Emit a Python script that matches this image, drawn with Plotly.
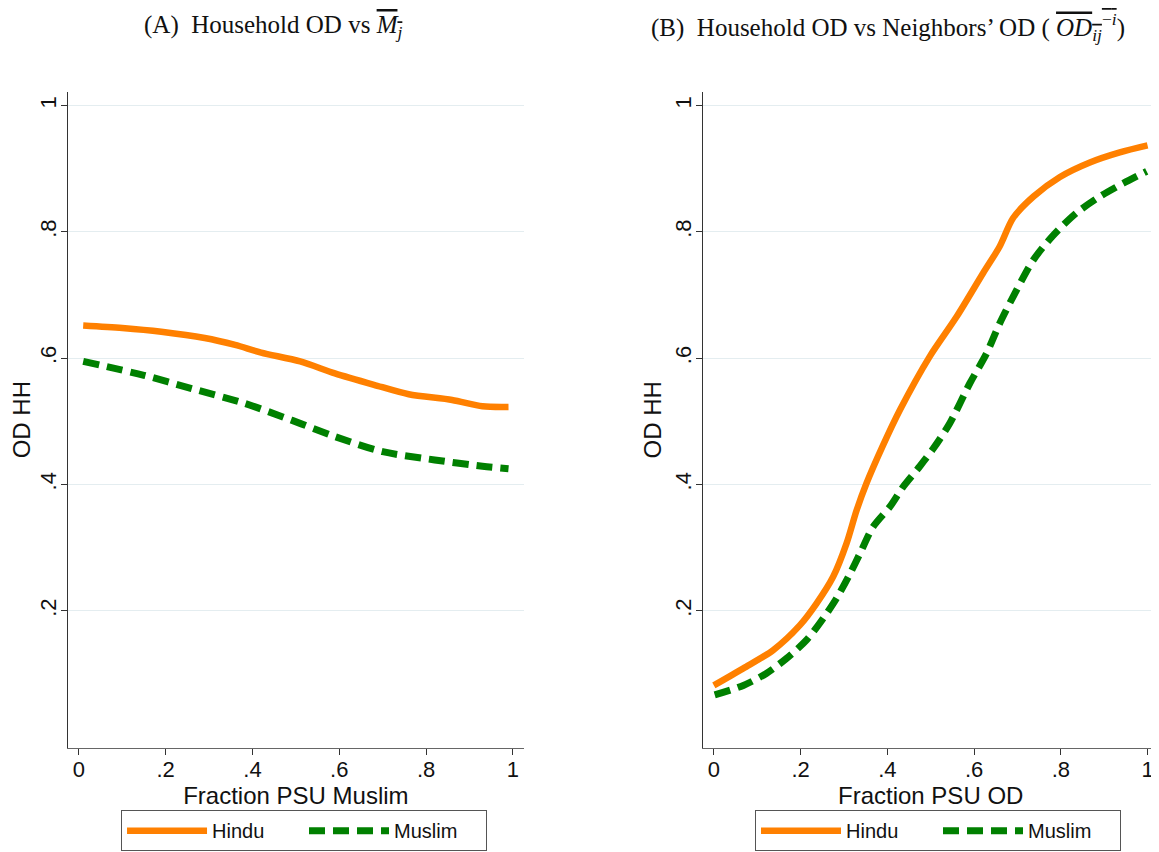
import plotly.graph_objects as go

# ---------------- data ----------------
a_hindu_x = [0.01, 0.10, 0.19, 0.29, 0.36, 0.42, 0.51, 0.59, 0.68, 0.76, 0.86, 0.93, 0.99]
a_hindu_y = [0.652, 0.648, 0.642, 0.632, 0.621, 0.609, 0.595, 0.576, 0.558, 0.543, 0.534, 0.524, 0.523]

a_muslim_x = [0.01, 0.15, 0.26, 0.38, 0.49, 0.59, 0.70, 0.82, 0.93, 0.99]
a_muslim_y = [0.595, 0.573, 0.552, 0.529, 0.502, 0.476, 0.452, 0.439, 0.429, 0.425]

b_hindu_x = [0.0, 0.068, 0.137, 0.198, 0.237, 0.275, 0.306, 0.329, 0.352, 0.39, 0.429,
             0.498, 0.560, 0.621, 0.659, 0.690, 0.737, 0.798, 0.867, 0.936, 1.0]
b_hindu_y = [0.082, 0.109, 0.138, 0.177, 0.212, 0.254, 0.307, 0.359, 0.402, 0.462, 0.518,
             0.603, 0.666, 0.735, 0.777, 0.822, 0.856, 0.887, 0.910, 0.926, 0.937]

b_muslim_x = [0.002, 0.068, 0.121, 0.168, 0.214, 0.252, 0.283, 0.314, 0.337, 0.367, 0.406,
              0.437, 0.475, 0.506, 0.544, 0.590, 0.629, 0.659, 0.698, 0.737, 0.783, 0.836,
              0.890, 0.944, 0.998]
b_muslim_y = [0.067, 0.082, 0.101, 0.125, 0.154, 0.188, 0.220, 0.259, 0.291, 0.333, 0.365,
              0.397, 0.429, 0.457, 0.497, 0.560, 0.608, 0.655, 0.708, 0.756, 0.795, 0.830,
              0.856, 0.877, 0.896]

x_tick_vals = [0, 0.2, 0.4, 0.6, 0.8, 1]
x_tick_text = ["0", ".2", ".4", ".6", ".8", "1"]
y_tick_vals = [0.2, 0.4, 0.6, 0.8, 1]
y_tick_text = [".2", ".4", ".6", ".8", "1"]

series_names = ["Hindu", "Muslim"]
x_titles = ["Fraction PSU Muslim", "Fraction PSU OD"]
y_title = "OD HH"

# ---------------- styling ----------------
ORANGE = "#FF8000"
GREEN = "#008000"
SANS = "Liberation Sans, Arial, sans-serif"
SERIF = "Liberation Serif, Times New Roman, serif"

fig = go.Figure()

panels = [
    (a_hindu_x, a_hindu_y, a_muslim_x, a_muslim_y, "x", "y", "legend"),
    (b_hindu_x, b_hindu_y, b_muslim_x, b_muslim_y, "x2", "y2", "legend2"),
]
for hx, hy, mx, my, xa, ya, lg in panels:
    fig.add_trace(go.Scatter(
        x=hx, y=hy, mode="lines", name=series_names[0], xaxis=xa, yaxis=ya, legend=lg,
        line=dict(color=ORANGE, width=6.5, shape="spline", smoothing=0.8),
    ))
    fig.add_trace(go.Scatter(
        x=mx, y=my, mode="lines", name=series_names[1], xaxis=xa, yaxis=ya, legend=lg,
        line=dict(color=GREEN, width=7, dash="16px,8px", shape="spline", smoothing=0.8),
    ))

xaxis_common = dict(
    range=[-0.025, 1.025], tickvals=x_tick_vals, ticktext=x_tick_text,
    showgrid=False, zeroline=False, showline=True, linecolor="#666", linewidth=1.2,
    ticks="outside", ticklen=6, tickcolor="#333", tickwidth=1.2,
    tickfont=dict(family=SANS, size=22, color="#111"), ticklabelstandoff=-4,
    automargin=False, fixedrange=True,
)
x_title_font = dict(family=SANS, size=24, color="#111")
yaxis_common = dict(
    range=[-0.0166, 1.022], tickvals=y_tick_vals, ticktext=y_tick_text, tickangle=-90,
    showgrid=True, gridcolor="#E4EDF0", gridwidth=1,
    zeroline=False, showline=True, linecolor="#333", linewidth=1.2,
    ticks="outside", ticklen=6, tickcolor="#333", tickwidth=1.2,
    tickfont=dict(family=SANS, size=22, color="#111"), ticklabelstandoff=-4,
    title=dict(text=y_title, font=dict(family=SANS, size=24, color="#111"), standoff=2),
    automargin=False, fixedrange=True,
)

legend_common = dict(
    orientation="h", xanchor="left", y=0.001, yanchor="bottom",
    bordercolor="#555", borderwidth=1, bgcolor="white",
    font=dict(family=SANS, size=20, color="#111"),
    entrywidth=87, entrywidthmode="pixels", itemwidth=80,
)

fig.update_layout(
    template="none",
    width=1151, height=844,
    margin=dict(l=0, r=0, t=0, b=0, autoexpand=False),
    paper_bgcolor="white", plot_bgcolor="white",
    xaxis=dict(xaxis_common, domain=[0.05213, 0.44805], anchor="y",
               title=dict(text=x_titles[0], font=x_title_font, standoff=0)),
    yaxis=dict(yaxis_common, domain=[0.12358, 0.90083], anchor="x"),
    xaxis2=dict(xaxis_common, domain=[0.60382, 0.99948], anchor="y2",
                title=dict(text=x_titles[1], font=x_title_font, standoff=0)),
    yaxis2=dict(yaxis_common, domain=[0.12358, 0.90083], anchor="x2"),
    legend=dict(legend_common, x=0.0982),
    legend2=dict(legend_common, x=0.6490),
    showlegend=True,
)

fig.add_annotation(
    xref="paper", yref="paper", x=0.2302, y=0.9775, xanchor="center", yanchor="middle",
    showarrow=False, font=dict(family=SERIF, size=25, color="#111"),
    text='(A)  Household OD vs <span style="text-decoration:overline"><i>M</i><sub><i>j</i></sub></span>',
)
fig.add_annotation(
    xref="paper", yref="paper", x=0.7646, y=0.9775, xanchor="center", yanchor="middle",
    showarrow=False, font=dict(family=SERIF, size=25, color="#111"),
    text=('(B)  Household OD vs Neighbors\u2019 OD ( '
          '<span style="text-decoration:overline"><i>OD</i><sub><i>ij</i></sub>'
          '<sup>\u2212<i>i</i></sup></span>)'),
)

fig.write_html("out.html")
